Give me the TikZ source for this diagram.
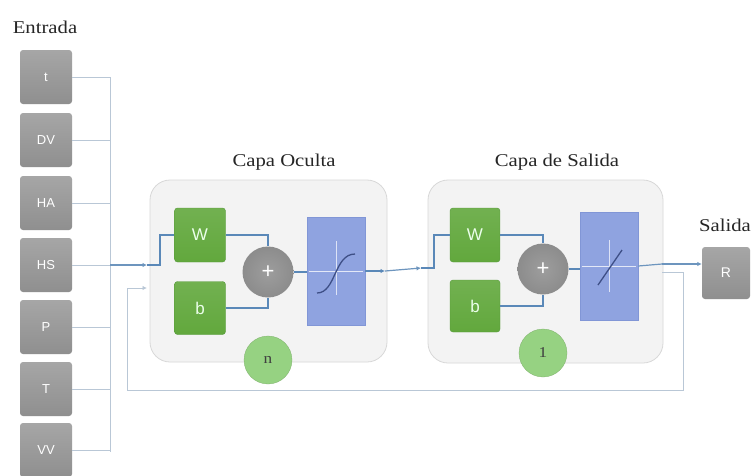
\documentclass[tikz,border=0pt]{standalone}
\usepackage{fontspec}
\setmainfont{Liberation Serif}[FakeStretch=1.15]
\setsansfont{Liberation Sans}
\usetikzlibrary{calc,arrows.meta}

\definecolor{boxgrayA}{HTML}{A6A6A6}
\definecolor{boxgrayB}{HTML}{8F8F8F}
\definecolor{wgreen}{HTML}{62A83D}
\definecolor{wgreenB}{HTML}{55993A}
\definecolor{tfblue}{HTML}{8FA3E0}
\definecolor{tfblueD}{HTML}{8196D6}
\definecolor{sumgray}{HTML}{8C8C8C}
\definecolor{cntgreen}{HTML}{96D282}
\definecolor{layerfill}{HTML}{F3F3F3}
\definecolor{layerdraw}{HTML}{D8D8D8}
\definecolor{linkblue}{HTML}{5A88B8}
\definecolor{buslight}{HTML}{B9C7D6}
\definecolor{curvenavy}{HTML}{3E4F86}

\begin{document}
\begin{tikzpicture}[x=1pt,y=-1pt,
  inbox/.style={rounded corners=3pt, top color=boxgrayA, bottom color=boxgrayB,
    minimum width=52pt, minimum height=54pt, inner sep=0pt,
    text=white, font=\sffamily\fontsize{13}{13}\selectfont},
  wbox/.style={rounded corners=3pt, top color=wgreen!90!white, bottom color=wgreen,
    draw=wgreenB, line width=0.4pt,
    minimum width=51pt, minimum height=54pt, inner sep=0pt,
    text=green!8!white, font=\sffamily\fontsize{17}{17}\selectfont},
  tfbox/.style={fill=tfblue, draw=tfblueD, line width=0.6pt,
    minimum width=58pt, minimum height=108pt, inner sep=0pt},
  sumnode/.style={circle, inner color=sumgray!85!white, outer color=sumgray,
    minimum size=51pt, inner sep=0pt,
    text=white, font=\sffamily\fontsize{22}{22}\selectfont},
  cntnode/.style={circle, fill=cntgreen, draw=cntgreen!85!black, line width=0.3pt,
    minimum size=48pt, inner sep=0pt, text=black!75,
    font=\fontsize{15}{15}\selectfont},
  layer/.style={rounded corners=20pt, fill=layerfill, draw=layerdraw, line width=0.8pt},
  title/.style={font=\fontsize{18}{18}\selectfont, text=black!85},
  bus/.style={draw=buslight, line width=0.8pt},
  conn/.style={draw=linkblue, line width=1.2pt},
  tip/.style={-{Latex[length=4.5pt,width=4.5pt]}}
]
\useasboundingbox (0,0) rectangle (753,475);
\fill[white] (0,0) rectangle (753,475);

% ---- inputs ----
\node[title] (entrada) at (45,27) {Entrada};
\node[inbox] (t)  at (46,77)  {t};
\node[inbox] (DV) at (46,140) {DV};
\node[inbox] (HA) at (46,203) {HA};
\node[inbox] (HS) at (46,265) {HS};
\node[inbox] (P)  at (46,327) {P};
\node[inbox] (T)  at (46,389) {T};
\node[inbox] (VV) at (46,450) {VV};

\coordinate (busTop) at (110,77);
\coordinate (busBot) at (110,452);
\draw[bus] (busTop) -- (busBot);
\foreach \n in {t,DV,HA,HS,P,T,VV}
  \draw[bus] (\n.east) -- (\n.east -| busTop);

% ---- layer frames ----
\node[layer, minimum width=237pt, minimum height=182pt] (L1) at (268.5,271) {};
\node[layer, minimum width=235pt, minimum height=183pt] (L2) at (545.5,271.5) {};
\node[title] (cap1) at (284,162) {Capa Oculta};
\node[title] (cap2) at (557,162) {Capa de Salida};

% ---- hidden layer ----
\node[wbox] (W1) at (200,235) {W};
\node[wbox, minimum height=53pt] (b1) at (200,308) {b};
\node[sumnode] (P1) at (268,272) {+};
\node[tfbox] (S1) at (336,271) {};
\node[cntnode] (n1) at (268,360) {n};

% ---- output layer ----
\node[wbox, minimum width=50pt] (W2) at (475,235) {W};
\node[wbox, minimum width=50pt, minimum height=52pt] (b2) at (475,306) {b};
\node[sumnode] (P2) at (543,269) {+};
\node[tfbox] (S2) at (609,266) {};
\node[cntnode] (n2) at (543,353) {1};

% ---- output ----
\node[inbox, minimum width=48pt, minimum height=52pt,
      font=\sffamily\fontsize{14}{14}\selectfont] (R) at (726,273) {R};
\node[title, anchor=east, inner xsep=1pt] (salida) at (752,225) {Salida};

% ---- transfer function glyphs ----
\draw[white!75!tfblue, line width=0.8pt]
  ($(S1.west)+(2,0)$) -- ($(S1.east)+(-2,0)$);
\draw[white!70!tfblue, line width=0.8pt]
  ($(S1.center)+(0,-30)$) -- ($(S1.center)+(0,24)$);
\draw[curvenavy, line width=1.3pt]
  ($(S1.center)+(-19,22)$) .. controls ($(S1.center)+(0,22)$) and
  ($(S1.center)+(-2,-17)$) .. ($(S1.center)+(19,-17)$);

\draw[white!75!tfblue, line width=0.8pt]
  ($(S2.west)+(2,0)$) -- ($(S2.east)+(-2,0)$);
\draw[white!70!tfblue, line width=0.8pt]
  ($(S2.center)+(0,-26)$) -- ($(S2.center)+(0,26)$);
\draw[curvenavy, line width=1.3pt]
  ($(S2.center)+(-11,19)$) -- ($(S2.center)+(13,-16)$);

% ---- connectors ----
\coordinate (in1) at (147,265);
\coordinate (fbin) at (147,288);
\coordinate (out1) at (385,271);
\coordinate (in2) at (421,268);
\coordinate (out2) at (662,264);
\coordinate (fb) at (662,272);

\draw[conn, draw=linkblue!80!buslight, tip] (HS.east -| busTop) -- (in1);
\draw[conn] (in1) -- ++(13,0) |- (W1.west);
\draw[conn] (W1.east) -| (P1.north);
\draw[conn] (b1.east) -| (P1.south);
\draw[conn] (P1.east) -- (P1.east -| S1.west);
\draw[conn, tip] (S1.east) -- (out1);
\draw[conn, draw=linkblue!80!buslight, tip] (out1) -- (in2);
\draw[conn] (in2) -- ++(13,0) |- (W2.west);
\draw[conn] (W2.east) -| (P2.north);
\draw[conn] (b2.east) -| (P2.south);
\draw[conn] (P2.east) -- (P2.east -| S2.west);
\draw[conn, draw=linkblue!80!buslight] (S2.east) -- (out2);
\draw[conn, draw=linkblue!80!buslight, tip] (out2) -- (out2 -| R.west);
\draw[bus, line width=1pt, tip] (fb) -- (683,272) -- (683,390) -- (127,390) -- (127,288) -- (fbin);
\end{tikzpicture}
\end{document}
